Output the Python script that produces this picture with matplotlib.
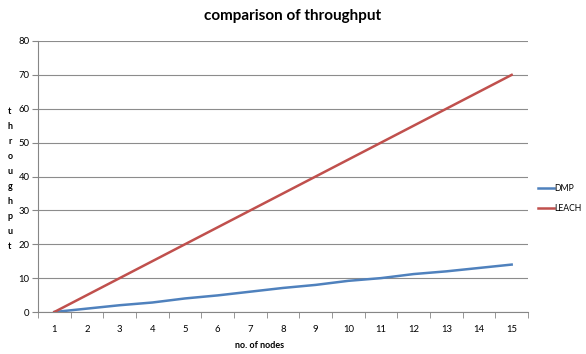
import matplotlib.pyplot as plt
import numpy as np

plt.rcParams['font.family'] = ['Lato', 'DejaVu Sans']

# data
nodes = [1, 2, 3, 4, 5, 6, 7, 8, 9, 10, 11, 12, 13, 14, 15]
dmp = [0, 1, 2, 2.8, 4, 4.9, 6, 7.1, 8, 9.2, 10, 11.2, 12, 13, 14]
leach = [0, 5, 10, 15, 20, 25, 30, 35, 40, 45, 50, 55, 60, 65, 70]

fig = plt.figure(figsize=(5.86, 3.54), dpi=100)
ax = fig.add_axes([38 / 586, 1 - 312 / 354, 490 / 586, 271 / 354])

ax.plot(nodes, dmp, color='#4F81BD', lw=1.8, label='DMP')
ax.plot(nodes, leach, color='#C0504D', lw=1.8, label='LEACH')

ax.set_xlim(0.5, 15.5)
ax.set_ylim(0, 80)
ax.set_yticks(range(0, 81, 10))
ax.set_xticks(nodes)
ax.set_xticks(np.arange(0.5, 16, 1), minor=True)
ax.tick_params(axis='x', which='major', length=0, pad=9, labelsize=6.8)
ax.tick_params(axis='x', which='minor', length=4, color='#868686')
ax.tick_params(axis='y', length=4, color='#868686', labelsize=6.8, pad=2)
ax.grid(axis='y', color='#8c8c8c', lw=0.8)
ax.set_axisbelow(True)
for s in ['top', 'right']:
    ax.spines[s].set_visible(False)
for s in ['left', 'bottom']:
    ax.spines[s].set_color('#868686')

fig.text(0.5, 0.955, 'comparison of throughput', ha='center', va='center',
         fontsize=11, fontweight='bold')
fig.text(260 / 586, 1 - 345 / 354, 'no. of nodes', ha='center', va='center',
         fontsize=6.5, fontweight='bold')
fig.text(10 / 586, 1 - 179 / 354, '\n'.join('throughput'), ha='center',
         va='center', fontsize=6.5, fontweight='bold', linespacing=1.85)

ax.legend(loc='center left', bbox_to_anchor=(1.01, 0.42), frameon=False,
          fontsize=6.2, handlelength=1.8, handletextpad=0.1, labelspacing=1.3,
          borderaxespad=0.6, borderpad=0)

fig.savefig('out.png', dpi=100)
